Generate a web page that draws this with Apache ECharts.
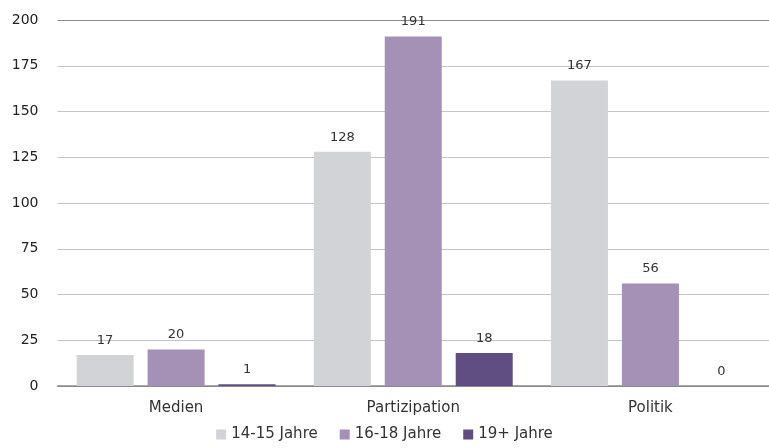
<!DOCTYPE html>
<html>
<head>
<meta charset="utf-8">
<script src="https://cdn.jsdelivr.net/npm/echarts@6/dist/echarts.min.js"></script>
<style>
  html, body { margin: 0; padding: 0; background: #fff; }
  #chart { width: 769px; height: 448px; }
</style>
</head>
<body>
<div id="chart"></div>
<script>
const categories = ['Medien', 'Partizipation', 'Politik']
const seriesNames = ['14-15 Jahre', '16-18 Jahre', '19+ Jahre']
const values1415 = [17, 128, 167]
const values1618 = [20, 191, 56]
const values19 = [1, 18, 0]
const colors = ['#d2d3d7', '#a590b6', '#604e83']

const myEcharts = echarts.init(document.getElementById('chart'))
const font = 'DejaVu Sans, sans-serif'

const makeSeries = (name, data, idx) => ({
  name: name,
  type: 'bar',
  barWidth: 57,
  barGap: '24.5%',
  itemStyle: { color: colors[idx] },
  label: {
    show: true,
    position: 'top',
    distance: 8,
    color: '#333',
    fontFamily: font,
    fontSize: 13
  },
  data: data
})

myEcharts.setOption({
  animation: false,
  color: colors,
  grid: {
    left: 57.5,
    right: -8.5,
    top: 20,
    bottom: 62,
    containLabel: false
  },
  legend: {
    bottom: 1,
    left: 'center',
    icon: 'rect',
    itemWidth: 10,
    itemHeight: 10,
    itemGap: 22,
    selectedMode: false,
    textStyle: { color: '#333', fontFamily: font, fontSize: 15 },
    data: seriesNames
  },
  xAxis: {
    type: 'category',
    data: categories,
    axisTick: { show: false },
    axisLine: { show: true, lineStyle: { color: '#8a8a8a', width: 1.5 } },
    axisLabel: { color: '#333', fontFamily: font, fontSize: 15, margin: 15 }
  },
  yAxis: {
    type: 'value',
    min: 0,
    max: 200,
    interval: 25,
    axisLine: { show: false },
    axisTick: { show: false },
    axisLabel: { color: '#222', fontFamily: font, fontSize: 14, margin: 19 },
    splitLine: {
      show: true,
      lineStyle: {
        color: ['#8a8a8a', '#c4c4c4', '#c4c4c4', '#c4c4c4', '#c4c4c4', '#c4c4c4', '#c4c4c4', '#c4c4c4', '#8a8a8a'],
        width: 1
      }
    }
  },
  series: [
    makeSeries(seriesNames[0], values1415, 0),
    makeSeries(seriesNames[1], values1618, 1),
    makeSeries(seriesNames[2], values19, 2)
  ]
})
</script>
</body>
</html>
